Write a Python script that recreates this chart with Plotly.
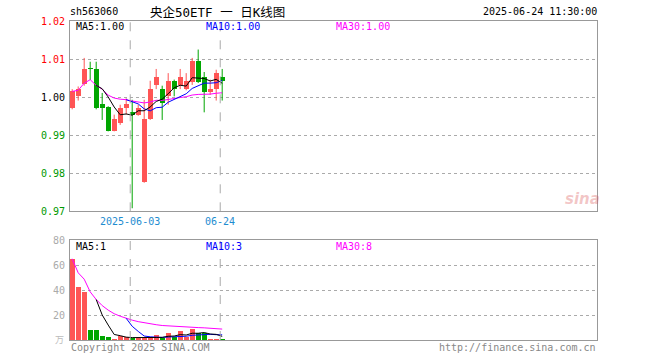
import plotly.graph_objects as go
import pandas as pd

# ---------------- data ----------------
dates = ["2025-05-19", "2025-05-20", "2025-05-21", "2025-05-22", "2025-05-23",
         "2025-05-26", "2025-05-27", "2025-05-28", "2025-05-29", "2025-05-30",
         "2025-06-03", "2025-06-04", "2025-06-05", "2025-06-06", "2025-06-09",
         "2025-06-10", "2025-06-11", "2025-06-12", "2025-06-13", "2025-06-16",
         "2025-06-17", "2025-06-18", "2025-06-19", "2025-06-20", "2025-06-23",
         "2025-06-24"]
opens = [0.9971, 1.0004, 1.0034, 1.0074, 1.0074, 0.9982, 0.9973, 0.9912, 0.9933, 0.9971,
         0.9962, 0.9954, 0.9778, 0.9943, 1.0032, 1.0022, 1.0004, 1.0043, 1.0032, 1.0021,
         1.0041, 1.0094, 1.0054, 1.0013, 1.0021, 1.0054]
highs = [1.0021, 1.0028, 1.0103, 1.0093, 1.0093, 1.0011, 0.9976, 0.9954, 0.9980, 0.9997,
         0.9993, 0.9980, 0.9993, 1.0043, 1.0074, 1.0030, 1.0063, 1.0046, 1.0074, 1.0063,
         1.0103, 1.0125, 1.0066, 1.0046, 1.0072, 1.0074]
lows = [0.9968, 0.9991, 1.0030, 1.0045, 0.9968, 0.9940, 0.9910, 0.9910, 0.9927, 0.9954,
        0.9708, 0.9951, 0.9775, 0.9940, 1.0021, 0.9940, 0.9980, 1.0002, 1.0021, 1.0018,
        1.0032, 1.0037, 0.9960, 1.0006, 0.9991, 0.9991]
closes = [1.0015, 1.0021, 1.0074, 1.0073, 0.9971, 0.9971, 0.9912, 0.9943, 0.9971, 0.9982,
          0.9954, 0.9971, 0.9943, 1.0021, 1.0054, 0.9984, 1.0043, 1.0021, 1.0054, 1.0043,
          1.0094, 1.0041, 1.0013, 1.0021, 1.0064, 1.0043]
volumes = [65.0, 42.5, 38.5, 8.0, 8.0, 3.2, 2.1, 0.8, 3.2, 2.1,
           1.4, 1.6, 1.5, 1.6, 4.0, 2.0, 5.8, 2.5, 7.2, 2.5,
           9.0, 5.8, 5.4, 1.2, 1.2, 1.0]   # 万

price_ticks = [1.02, 1.01, 1.00, 0.99, 0.98, 0.97]
price_tick_labels = ["1.02", "1.01", "1.00", "0.99", "0.98", "0.97"]
vol_ticks = [80, 60, 40, 20]
vol_tick_labels = ["80", "60", "40", "20"]
date_marks = ["2025-06-03", "2025-06-24"]
date_mark_labels = ["2025-06-03", "06-24"]

# ---------------- styling ----------------
W, H = 660, 360
RED = "#FF5555"
GREEN = "#00A600"
LBL_RED = "#FF0000"
LBL_GREEN = "#009900"
GRID = "#AAAAAA"
BORDER = "#999999"
MONO = "DejaVu Sans Mono"

X0, X1 = 70, 597          # plot box in pixels
PY0, PY1 = 21, 211.3      # price panel
VY0, VY1 = 240, 340       # volume panel
C0, STEP = 72.2, 6.0      # first candle center, spacing


def px(x):
    return x / W


def py(y):
    return 1 - y / H


n = len(dates)
idx = list(range(n))
df = pd.DataFrame({"o": opens, "h": highs, "l": lows, "c": closes, "v": volumes})
up = [c >= o for o, c in zip(opens, closes)]
colors = [RED if u else GREEN for u in up]

ma5 = df["c"].rolling(5).mean()
ma10 = df["c"].rolling(10).mean()
ma30 = df["c"].expanding().mean()
vma5 = df["v"].rolling(5).mean()
vma10 = df["v"].rolling(10).mean()
vma30 = df["v"].expanding().mean()

xr = [(X0 - C0) / STEP, (X1 - C0) / STEP]

fig = go.Figure()

# wicks
for col, flag in [(RED, True), (GREEN, False)]:
    xs, ys = [], []
    for i in idx:
        if up[i] == flag:
            xs += [i, i, None]
            ys += [lows[i], highs[i], None]
    fig.add_trace(go.Scatter(x=xs, y=ys, mode="lines", line=dict(color=col, width=1),
                             hoverinfo="skip", showlegend=False, xaxis="x", yaxis="y"))

# bodies
base = [min(o, c) for o, c in zip(opens, closes)]
hgt = [max(abs(c - o), 0.00028) for o, c in zip(opens, closes)]
fig.add_trace(go.Bar(x=idx, y=hgt, base=base, width=0.85, marker=dict(color=colors, line=dict(width=0)),
                     showlegend=False, xaxis="x", yaxis="y"))

# price MAs
for s, col in [(ma30, "#FF00FF"), (ma10, "#0000FF"), (ma5, "#000000")]:
    fig.add_trace(go.Scatter(x=idx, y=s, mode="lines", line=dict(color=col, width=1),
                             showlegend=False, xaxis="x", yaxis="y", connectgaps=False))

# volume bars
fig.add_trace(go.Bar(x=idx, y=volumes, width=0.88, marker=dict(color=colors, line=dict(width=0)),
                     showlegend=False, xaxis="x2", yaxis="y2"))
for s, col in [(vma30, "#FF00FF"), (vma10, "#0000FF"), (vma5, "#000000")]:
    fig.add_trace(go.Scatter(x=idx, y=s, mode="lines", line=dict(color=col, width=1),
                             showlegend=False, xaxis="x2", yaxis="y2"))

axis_common = dict(showgrid=False, zeroline=False, showticklabels=False, ticks="",
                   showline=True, mirror=True, linecolor=BORDER, linewidth=1, fixedrange=True)

fig.update_layout(
    width=W, height=H, margin=dict(l=0, r=0, t=0, b=0),
    paper_bgcolor="white", plot_bgcolor="white", bargap=0,
    xaxis=dict(domain=[px(X0), px(X1)], range=xr, anchor="y", **axis_common),
    yaxis=dict(domain=[py(PY1), py(PY0)], range=[0.97, 1.02], anchor="x",
               showgrid=True, gridcolor=GRID, griddash="dot", gridwidth=1,
               tickvals=price_ticks[1:-1], zeroline=False, showticklabels=False, ticks="",
               showline=True, mirror=True, linecolor=BORDER, fixedrange=True),
    xaxis2=dict(domain=[px(X0), px(X1)], range=xr, anchor="y2", **axis_common),
    yaxis2=dict(domain=[py(VY1), py(VY0)], range=[0, 80], anchor="x2",
                showgrid=True, gridcolor=GRID, griddash="dot", gridwidth=1,
                tickvals=vol_ticks[1:], zeroline=False, showticklabels=False, ticks="",
                showline=True, mirror=True, linecolor=BORDER, fixedrange=True),
    font=dict(family=MONO, size=10, color="#000000"),
    hovermode=False,
)

# dashed date lines
for d in date_marks:
    xi = dates.index(d) - 0.33
    for (ya, yb, yr) in [(0.97, 1.02, "y"), (0, 80, "y2")]:
        fig.add_shape(type="line", x0=xi, x1=xi, y0=ya, y1=yb,
                      xref="x" if yr == "y" else "x2", yref=yr,
                      line=dict(color=GRID, width=1, dash="dash"))

ann = []


def txt(x, y, s, color="#000000", size=10, xanchor="left", family=MONO, xref="paper"):
    ann.append(dict(x=x if xref != "paper" else px(x), y=py(y), xref=xref, yref="paper",
                    text=s, showarrow=False, xanchor=xanchor, yanchor="middle",
                    font=dict(family=family, size=size, color=color)))


# header
txt(68, 12, "sh563060")
txt(217, 13, "央企50ETF 一 日K线图", size=12.5, xanchor="center", family="DejaVu Sans Mono, Noto Sans CJK SC")
txt(599, 12, "2025-06-24 11:30:00", xanchor="right")

# price axis labels
for v, lab in zip(price_ticks, price_tick_labels):
    yy = PY1 - (v - 0.97) / 0.05 * (PY1 - PY0)
    if v == price_ticks[0]:
        yy += 1
    col = LBL_RED if v > 1.0 + 1e-9 else ("#000000" if abs(v - 1.0) < 1e-9 else LBL_GREEN)
    txt(67, yy, lab, color=col, xanchor="right")

# volume axis labels
for v, lab in zip(vol_ticks, vol_tick_labels):
    yy = VY1 - v / 80 * (VY1 - VY0)
    txt(67, yy, lab, color="#AAAAAA", xanchor="right")
txt(66, 339, "万", color="#BBBBBB", xanchor="right", family="Noto Sans CJK SC", size=9)

# MA legends
txt(74, 27, "MA5:1.00", color="#000000")
txt(204, 27, "MA10:1.00", color="#0000FF")
txt(334, 27, "MA30:1.00", color="#FF00FF")
txt(74, 246, "MA5:1", color="#000000")
txt(204, 246, "MA10:3", color="#0000FF")
txt(334, 246, "MA30:8", color="#FF00FF")

# date labels
for d, lab in zip(date_marks, date_mark_labels):
    ann.append(dict(x=dates.index(d) - 0.33, y=py(221), xref="x", yref="paper", text=lab,
                    showarrow=False, xanchor="center", yanchor="middle",
                    font=dict(family=MONO, size=10, color="#1E8CD0")))

# footer
txt(69, 347, "Copyright 2025 SINA.COM", color="#888888")
txt(598, 347, "http://finance.sina.com.cn", color="#888888", xanchor="right")

# sina watermark
txt(582, 199, "<i><b>sina</b></i>", color="rgba(220,90,90,0.35)", size=15, xanchor="center",
    family="DejaVu Sans")

fig.update_layout(annotations=ann)
fig.write_html("out.html", config={"displayModeBar": False, "staticPlot": True},
               post_script="document.body.style.margin='0';document.body.style.padding='0';")
